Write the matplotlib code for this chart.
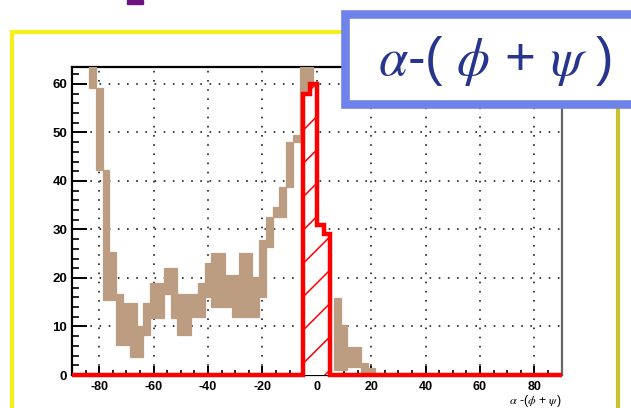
import numpy as np
import matplotlib
matplotlib.use("Agg")
import matplotlib.pyplot as plt
from matplotlib.patches import Rectangle
from matplotlib.lines import Line2D
from matplotlib.ticker import MultipleLocator

plt.rcParams['font.family'] = ['Liberation Sans', 'DejaVu Sans']
plt.rcParams['mathtext.fontset'] = 'stix'
plt.rcParams['axes.unicode_minus'] = False
plt.rcParams['hatch.linewidth'] = 1.1
plt.rcParams['hatch.color'] = 'red'

# ---- tan band: per-bin low / high envelope (bins centred on multiples of 2.5)
tan_width = 2.5
tan_centers = [-82.5, -80, -77.5, -75, -72.5, -70, -67.5, -65, -62.5, -60,
               -57.5, -55, -52.5, -50, -47.5, -45, -42.5, -40, -37.5, -35,
               -32.5, -30, -27.5, -25, -22.5, -20, -17.5, -15, -12.5, -10,
               -7.5, -5, -2.5, 7.5, 10, 12.5, 15, 17.5, 20]
tan_low = [59.2, 42.3, 15.5, 15.5, 6.2, 6.2, 3.8, 3.8, 8.2, 11.7,
           11.7, 16.8, 11.7, 8.2, 8.2, 12.0, 12.0, 16.1, 14.1, 14.1,
           14.1, 12.0, 12.0, 12.0, 12.0, 16.1, 26.4, 32.6, 32.6, 38.8,
           48.0, 48.0, 56.0, 1.0, 1.0, 1.6, 1.6, 0.4, 0.3]
tan_high = [66.0, 59.2, 42.3, 25.4, 16.8, 14.8, 14.8, 10.0, 14.8, 18.9,
            18.9, 22.0, 22.0, 16.8, 16.8, 16.8, 18.9, 23.0, 25.1, 25.1,
            20.6, 20.6, 25.1, 25.1, 20.3, 27.8, 32.6, 34.6, 38.8, 48.0,
            49.5, 66.0, 66.0, 15.9, 10.3, 5.8, 5.8, 2.5, 1.5]

# ---- red histogram counts per bin (-90 .. 90, width 2.5) ------------------
bin_width = 2.5
red_edges = np.arange(-90.0, 90.0 + bin_width / 2, bin_width)
red_counts = [0, 0, 0, 0, 0, 0, 0, 0, 0, 0,
              0, 0, 0, 0, 0, 0, 0, 0, 0, 0,
              0, 0, 0, 0, 0, 0, 0, 0, 0, 0,
              0, 0, 0, 0, 58, 60, 31, 29, 0, 0,
              0, 0, 0, 0, 0, 0, 0, 0, 0, 0,
              0, 0, 0, 0, 0, 0, 0, 0, 0, 0,
              0, 0, 0, 0, 0, 0, 0, 0, 0, 0,
              0, 0]

x_ticks = [-80, -60, -40, -20, 0, 20, 40, 60, 80]
y_ticks = [0, 10, 20, 30, 40, 50, 60]

title_text = r'$\alpha$-( $\phi$ + $\psi$ )'
axis_title = r'$\alpha$ -($\phi$ + $\psi$)'

tan = '#bd9d81'
W, H = 631, 408

fig = plt.figure(figsize=(W / 100, H / 100), dpi=100)
fig.patch.set_facecolor('white')

ax = fig.add_axes([72 / W, (H - 375) / H, 489.5 / W, 308 / H])
ax.set_xlim(-90, 90)
ax.set_ylim(0, 63.5)
ax.set_axisbelow(True)

# tan band, one block per bin from its low to its high value
low = np.asarray(tan_low)
high = np.asarray(tan_high)
ax.bar(tan_centers, high - low, bottom=low, width=tan_width, align='center',
       color=tan, edgecolor=tan, lw=0.9, zorder=2)

# red hatched histogram
ax.stairs(red_counts, red_edges, baseline=0, fill=True, facecolor='white',
          edgecolor='red', hatch='/', lw=0, zorder=3)
ax.stairs(red_counts, red_edges, baseline=0, color='red', lw=3.2,
          joinstyle='miter', zorder=4, clip_on=False)

# axes styling
ax.set_xticks(x_ticks)
ax.set_yticks(y_ticks)
ax.xaxis.set_minor_locator(MultipleLocator(5))
ax.yaxis.set_minor_locator(MultipleLocator(2))
ax.tick_params(axis='y', which='major', direction='in', length=10.8, width=1.4,
               pad=3.5, labelsize=9.5)
ax.tick_params(axis='y', which='minor', direction='in', length=5.3, width=1.2)
ax.tick_params(axis='x', which='major', direction='in', length=6.6, width=1.4,
               pad=4.0, labelsize=9)
ax.tick_params(axis='x', which='minor', direction='in', length=3.3, width=1.2)
for lab in ax.get_xticklabels() + ax.get_yticklabels():
    lab.set_fontweight('bold')
ax.grid(True, which='major', color='#222222', linestyle=(0, (1, 4.5)), lw=1.2)

for side in ('left', 'top', 'bottom'):
    ax.spines[side].set_color('black')
    ax.spines[side].set_linewidth(1.6)
    ax.spines[side].set_zorder(1)
ax.spines['right'].set_color('#666666')
ax.spines['right'].set_linewidth(1.6)

ax.text(1.0, -0.060, axis_title, transform=ax.transAxes, ha='right', va='top',
        fontsize=8.8, color='black', clip_on=False)

# canvas border lines
fig.add_artist(Line2D([11.5 / W, 11.5 / W], [0, 1 - 31.5 / H], color='#f7f020', lw=3))
fig.add_artist(Line2D([11.5 / W, 400 / W], [1 - 31.5 / H, 1 - 31.5 / H], color='#f7f020', lw=3))
fig.add_artist(Line2D([617.5 / W, 617.5 / W], [0, 1 - 31.5 / H], color='#c9c030', lw=3))
fig.add_artist(Rectangle((127 / W, 1 - 3.5 / H), 16 / W, 3.5 / H, color='#6b1480',
                         transform=fig.transFigure))

# label box
fig.add_artist(Rectangle((345 / W, 1 - 104 / H), 400 / W, 90 / H,
                         facecolor='white', edgecolor='#6e82ea', lw=6.2,
                         transform=fig.transFigure, zorder=10))
fig.text(495 / W, 1 - 61 / H, title_text, ha='center', va='center',
         fontsize=38, color='#27358c', zorder=11)

fig.savefig('out.png', dpi=100)
